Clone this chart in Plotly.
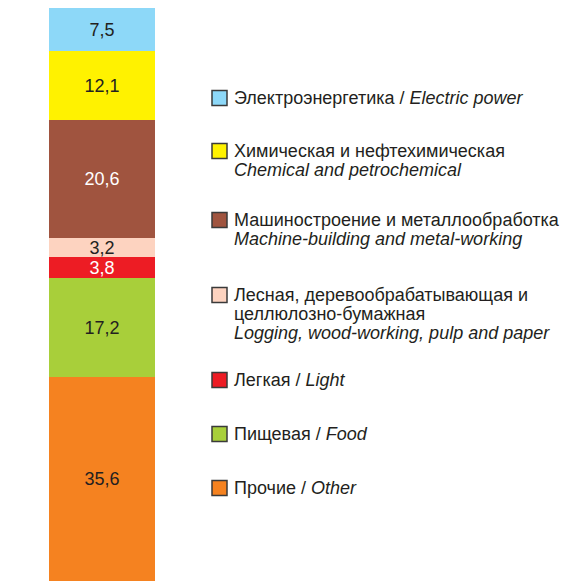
import plotly.graph_objects as go

# ---- data ----
categories_ru = ["Прочие", "Пищевая", "Легкая",
                 "Лесная, деревообрабатывающая и|целлюлозно-бумажная",
                 "Машиностроение и металлообработка",
                 "Химическая и нефтехимическая", "Электроэнергетика"]
categories_en = ["Other", "Food", "Light", "Logging, wood-working, pulp and paper",
                 "Machine-building and metal-working", "Chemical and petrochemical",
                 "Electric power"]
values = [35.6, 17.2, 3.8, 3.2, 20.6, 12.1, 7.5]
colors = ["#f58220", "#a8cf3a", "#ed1c24", "#fdd3c0", "#a0543f", "#fff200", "#8dd8f8"]
label_colors = ["#231f20", "#231f20", "#ffffff", "#231f20", "#ffffff", "#231f20", "#231f20"]
legend_inline = [True, True, True, False, False, False, True]

# ---- layout constants (page has an 8px body margin) ----
OFF = 8
W, H = 573 - OFF, 581 - OFF
bar_left, bar_right, bar_top = 49 - OFF, 155 - OFF, 8 - OFF
legend_order = [6, 5, 4, 3, 2, 1, 0]
legend_first_line_px = [y - OFF for y in [98, 151, 220, 295, 380, 434, 488]]
LINE_H = 19
sq_x0, sq_size, text_x = 212 - OFF, 15, 235 - OFF
FONT = "Liberation Sans"
FS_LEG = 18
FS_LBL = 18
TXT = "#231f20"

fig = go.Figure()
for i, v in enumerate(values):
    fig.add_trace(go.Bar(
        x=[0], y=[v], width=1,
        marker=dict(color=colors[i], line=dict(width=0)),
        text=[f"{v:.1f}".replace(".", ",")],
        textposition="inside", insidetextanchor="middle",
        textfont=dict(family=FONT, size=FS_LBL, color=label_colors[i]),
        constraintext="none",
        showlegend=False, hoverinfo="skip",
    ))

shapes, annotations = [], []
for k, idx in enumerate(legend_order):
    cy = legend_first_line_px[k]
    shapes.append(dict(
        type="rect", xref="paper", yref="paper",
        x0=sq_x0 / W, x1=(sq_x0 + sq_size) / W,
        y0=1 - (cy + sq_size / 2) / H, y1=1 - (cy - sq_size / 2) / H,
        fillcolor=colors[idx], line=dict(color="#3a3a3a", width=1.5),
    ))
    ru_lines = categories_ru[idx].split("|")
    if legend_inline[idx]:
        lines = ru_lines[:-1] + [f"{ru_lines[-1]} / <i>{categories_en[idx]}</i>"]
    else:
        lines = ru_lines + [f"<i>{categories_en[idx]}</i>"]
    for j, line in enumerate(lines):
        ly = cy + j * LINE_H
        annotations.append(dict(
            xref="paper", yref="paper", x=text_x / W, y=1 - ly / H,
            xanchor="left", yanchor="middle", align="left", showarrow=False,
            text=line, font=dict(family=FONT, size=FS_LEG, color=TXT),
            xshift=-3,
        ))

fig.update_layout(
    width=W, height=H,
    margin=dict(l=0, r=0, t=0, b=0),
    paper_bgcolor="white", plot_bgcolor="white",
    font=dict(family=FONT),
    barmode="stack", bargap=0,
    uniformtext=dict(minsize=FS_LBL, mode="show"),
    xaxis=dict(domain=[bar_left / W, bar_right / W], range=[-0.5, 0.5],
               visible=False, fixedrange=True),
    yaxis=dict(domain=[0, 1 - bar_top / H], range=[0, sum(values)],
               visible=False, fixedrange=True),
    shapes=shapes, annotations=annotations,
)

fig.write_html("out.html")
